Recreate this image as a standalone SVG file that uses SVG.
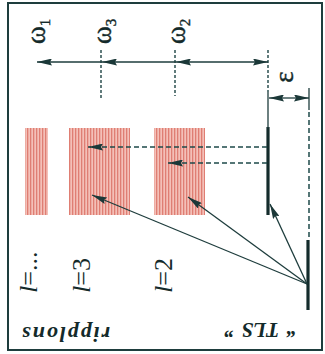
<svg xmlns="http://www.w3.org/2000/svg" width="325" height="354" viewBox="0 0 325 354">
<defs>
<pattern id="stripes" patternUnits="userSpaceOnUse" width="3" height="10">
<rect x="0" y="0" width="3" height="10" fill="#f4c0b8"/>
<rect x="0" y="0" width="1.3" height="10" fill="#df7e73"/>
</pattern>
<marker id="ah" markerUnits="userSpaceOnUse" viewBox="0 0 15 7" refX="15" refY="3.5" markerWidth="15" markerHeight="7" orient="auto">
<path d="M0,0 L15,3.5 L0,7 L2,3.5 z" fill="#1b3838"/>
</marker>
</defs>
<style>
.ln{stroke:#1e3d3d;stroke-width:1.3;fill:none}
.thick{stroke:#142c2c;stroke-width:3.2;fill:none}
.dv{stroke:#1e4444;stroke-width:1.4;stroke-dasharray:3 2;fill:none}
.dh{stroke:#1e4a4a;stroke-width:1.5;stroke-dasharray:5 3;fill:none}
.sym{font-family:"Liberation Serif","DejaVu Serif",serif;fill:#142a2a;stroke:#142a2a;stroke-width:0.4;font-size:27px}
.sub{font-size:15px}
.lab{font-family:"Liberation Serif","DejaVu Serif",serif;fill:#142a2a;font-size:26px}
.bi{font-family:"Liberation Serif","DejaVu Serif",serif;fill:#142a2a;font-style:italic;font-weight:bold}
</style>
<rect x="8" y="3" width="314" height="347" fill="#fff" stroke="#1e3d3d" stroke-width="2"/>

<g id="ripplon-l-dots"><rect x="25" y="128" width="23" height="87" fill="url(#stripes)"/>
<text class="lab" transform="translate(37,293) rotate(-90)"><tspan font-style="italic">l</tspan>=...</text></g>
<g id="ripplon-l3"><rect x="69" y="128" width="61" height="87" fill="url(#stripes)"/>
<text class="lab" transform="translate(90,293) rotate(-90)"><tspan font-style="italic">l</tspan>=3</text></g>
<g id="ripplon-l2"><rect x="154" y="128" width="51" height="87" fill="url(#stripes)"/>
<text class="lab" transform="translate(172,293) rotate(-90)"><tspan font-style="italic">l</tspan>=2</text></g>

<g id="tls">
<line class="thick" x1="268" y1="127" x2="268" y2="215"/>
<line class="thick" x1="308" y1="240" x2="308" y2="310"/>
<text class="bi" font-size="21" text-anchor="middle" transform="translate(260.5,323) rotate(180)"><tspan x="-31">“</tspan><tspan x="0">TLS</tspan><tspan x="31">”</tspan></text>
</g>
<g id="ripplons-label">
<text class="bi" font-size="22" text-anchor="middle" textLength="88" lengthAdjust="spacing" transform="translate(66,327) rotate(180)">ripplons</text>
</g>

<g id="labels">
<text class="sym" transform="translate(45,44) rotate(-90)">ω<tspan class="sub" dy="5">1</tspan></text>
<text class="sym" transform="translate(111,44) rotate(-90)">ω<tspan class="sub" dy="5">3</tspan></text>
<text class="sym" transform="translate(185,44) rotate(-90)">ω<tspan class="sub" dy="5">2</tspan></text>
<text class="sym" text-anchor="middle" transform="translate(293,77) rotate(-90)">ε</text>
</g>

<g id="connectors">
<line class="dv" x1="101" y1="50" x2="101" y2="98"/>
<line class="dv" x1="175" y1="50" x2="175" y2="96"/>
<line class="dv" x1="268" y1="50" x2="268" y2="92"/>
<line class="ln" x1="268" y1="92" x2="268" y2="128"/>
<line class="ln" x1="309" y1="88" x2="309" y2="110"/>
<line class="dh" x1="309" y1="112" x2="309" y2="240"/>
<line class="ln" x1="102" y1="62" x2="37" y2="62" marker-end="url(#ah)"/>
<line class="ln" x1="176" y1="62" x2="102" y2="62" marker-end="url(#ah)"/>
<line class="ln" x1="222" y1="62" x2="176" y2="62" marker-end="url(#ah)"/>
<line class="ln" x1="222" y1="62" x2="268" y2="62" marker-end="url(#ah)"/>
<line class="ln" x1="289" y1="98" x2="269" y2="98" marker-end="url(#ah)"/>
<line class="ln" x1="289" y1="98" x2="309" y2="98" marker-end="url(#ah)"/>
<line class="dh" x1="267" y1="147" x2="88" y2="147" marker-end="url(#ah)"/>
<line class="dh" x1="267" y1="163" x2="168" y2="163" marker-end="url(#ah)"/>
<line class="ln" x1="307" y1="284" x2="270" y2="204" marker-end="url(#ah)"/>
<line class="ln" x1="307" y1="284" x2="188" y2="197" marker-end="url(#ah)"/>
<line class="ln" x1="307" y1="284" x2="92" y2="195" marker-end="url(#ah)"/>
</g>
</svg>
